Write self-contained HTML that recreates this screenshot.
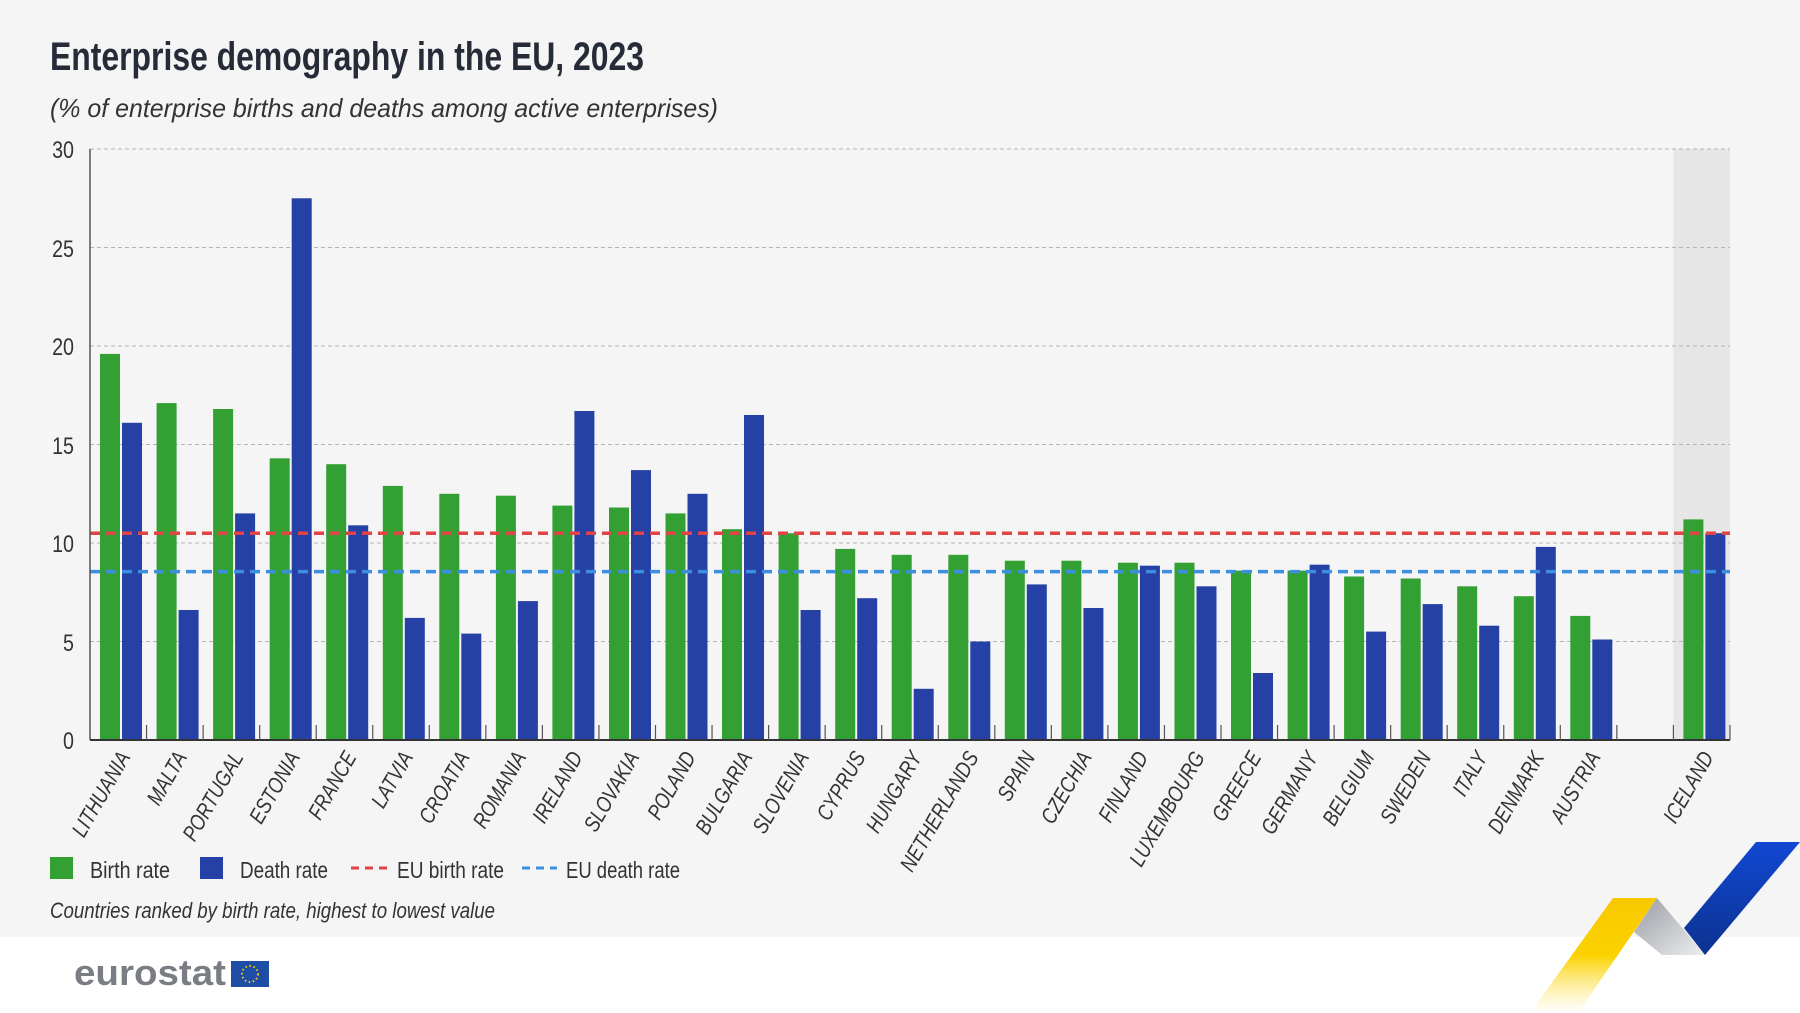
<!DOCTYPE html>
<html><head><meta charset="utf-8"><style>
html,body{margin:0;padding:0;background:#fff}
svg{display:block}
text{font-family:"Liberation Sans",sans-serif}
</style></head><body>
<svg width="1800" height="1013" viewBox="0 0 1800 1013" xmlns="http://www.w3.org/2000/svg">
<rect x="0" y="0" width="1800" height="937" fill="#f5f5f5"/>
<text x="50" y="70" font-size="40" font-weight="bold" fill="#262b38" textLength="594" lengthAdjust="spacingAndGlyphs">Enterprise demography in the EU, 2023</text>
<text x="50" y="117" font-size="26" font-style="italic" fill="#333" textLength="668" lengthAdjust="spacingAndGlyphs">(% of enterprise births and deaths among active enterprises)</text>
<rect x="1673.4" y="149" width="56.6" height="591" fill="#e6e6e6"/>
<g stroke="#b4b4b4" stroke-width="1" stroke-dasharray="4,3">
<line x1="90" y1="149" x2="1730" y2="149"/><line x1="90" y1="247.5" x2="1730" y2="247.5"/>
<line x1="90" y1="346" x2="1730" y2="346"/><line x1="90" y1="444.5" x2="1730" y2="444.5"/>
<line x1="90" y1="543" x2="1730" y2="543"/><line x1="90" y1="641.5" x2="1730" y2="641.5"/>
</g>
<g font-size="24" fill="#333" text-anchor="end">
<text transform="translate(74,158) scale(0.82,1)">30</text><text transform="translate(74,257) scale(0.82,1)">25</text><text transform="translate(74,355) scale(0.82,1)">20</text>
<text transform="translate(74,454) scale(0.82,1)">15</text><text transform="translate(74,552) scale(0.82,1)">10</text><text transform="translate(74,651) scale(0.82,1)">5</text><text transform="translate(74,749) scale(0.82,1)">0</text>
</g>
<g fill="#33a033">
<rect x="100" y="353.9" width="20" height="386.1"/><rect x="156.6" y="403.1" width="20" height="336.9"/>
<rect x="213.1" y="409" width="20" height="331"/><rect x="269.7" y="458.3" width="20" height="281.7"/>
<rect x="326.2" y="464.2" width="20" height="275.8"/><rect x="382.8" y="485.9" width="20" height="254.1"/>
<rect x="439.3" y="493.8" width="20" height="246.2"/><rect x="495.9" y="495.7" width="20" height="244.3"/>
<rect x="552.4" y="505.6" width="20" height="234.4"/><rect x="609" y="507.5" width="20" height="232.5"/>
<rect x="665.5" y="513.4" width="20" height="226.6"/><rect x="722" y="529.2" width="20" height="210.8"/>
<rect x="778.6" y="533.2" width="20" height="206.8"/><rect x="835.2" y="548.9" width="20" height="191.1"/>
<rect x="891.7" y="554.8" width="20" height="185.2"/><rect x="948.3" y="554.8" width="20" height="185.2"/>
<rect x="1004.8" y="560.7" width="20" height="179.3"/><rect x="1061.4" y="560.7" width="20" height="179.3"/>
<rect x="1117.9" y="562.7" width="20" height="177.3"/><rect x="1174.5" y="562.7" width="20" height="177.3"/>
<rect x="1231" y="570.6" width="20" height="169.4"/><rect x="1287.6" y="570.6" width="20" height="169.4"/>
<rect x="1344.1" y="576.5" width="20" height="163.5"/><rect x="1400.7" y="578.5" width="20" height="161.5"/>
<rect x="1457.2" y="586.3" width="20" height="153.7"/><rect x="1513.8" y="596.2" width="20" height="143.8"/>
<rect x="1570.3" y="615.9" width="20" height="124.1"/><rect x="1683.4" y="519.4" width="20" height="220.6"/>
</g>
<g fill="#2541a6">
<rect x="122" y="422.8" width="20" height="317.2"/><rect x="178.6" y="610" width="20" height="130"/>
<rect x="235.1" y="513.4" width="20" height="226.6"/><rect x="291.7" y="198.3" width="20" height="541.7"/>
<rect x="348.2" y="525.3" width="20" height="214.7"/><rect x="404.8" y="617.9" width="20" height="122.1"/>
<rect x="461.3" y="633.6" width="20" height="106.4"/><rect x="517.9" y="601.1" width="20" height="138.9"/>
<rect x="574.4" y="411" width="20" height="329"/><rect x="631" y="470.1" width="20" height="269.9"/>
<rect x="687.5" y="493.8" width="20" height="246.2"/><rect x="744" y="415" width="20" height="325"/>
<rect x="800.6" y="610" width="20" height="130"/><rect x="857.2" y="598.2" width="20" height="141.8"/>
<rect x="913.7" y="688.8" width="20" height="51.2"/><rect x="970.3" y="641.5" width="20" height="98.5"/>
<rect x="1026.8" y="584.4" width="20" height="155.6"/><rect x="1083.4" y="608" width="20" height="132"/>
<rect x="1139.9" y="565.7" width="20" height="174.3"/><rect x="1196.5" y="586.3" width="20" height="153.7"/>
<rect x="1253" y="673" width="20" height="67"/><rect x="1309.6" y="564.7" width="20" height="175.3"/>
<rect x="1366.1" y="631.6" width="20" height="108.4"/><rect x="1422.7" y="604.1" width="20" height="135.9"/>
<rect x="1479.2" y="625.7" width="20" height="114.3"/><rect x="1535.8" y="546.9" width="20" height="193.1"/>
<rect x="1592.3" y="639.5" width="20" height="100.5"/><rect x="1705.4" y="533.2" width="20" height="206.8"/>
</g>
<line x1="90" y1="533.2" x2="1730" y2="533.2" stroke="#e04444" stroke-width="3.5" stroke-dasharray="10,6"/>
<line x1="90" y1="571.6" x2="1730" y2="571.6" stroke="#3d8ee0" stroke-width="3.5" stroke-dasharray="10,6"/>
<line x1="90" y1="149" x2="90" y2="740" stroke="#555" stroke-width="1.5"/>
<line x1="90" y1="740" x2="1730" y2="740" stroke="#333" stroke-width="2"/>
<g stroke="#555" stroke-width="1.2">
<line x1="146.55" y1="725" x2="146.55" y2="740"/><line x1="203.1" y1="725" x2="203.1" y2="740"/><line x1="259.65" y1="725" x2="259.65" y2="740"/><line x1="316.2" y1="725" x2="316.2" y2="740"/><line x1="372.75" y1="725" x2="372.75" y2="740"/><line x1="429.3" y1="725" x2="429.3" y2="740"/><line x1="485.85" y1="725" x2="485.85" y2="740"/><line x1="542.4" y1="725" x2="542.4" y2="740"/><line x1="598.95" y1="725" x2="598.95" y2="740"/><line x1="655.5" y1="725" x2="655.5" y2="740"/><line x1="712.05" y1="725" x2="712.05" y2="740"/><line x1="768.6" y1="725" x2="768.6" y2="740"/><line x1="825.15" y1="725" x2="825.15" y2="740"/><line x1="881.7" y1="725" x2="881.7" y2="740"/><line x1="938.25" y1="725" x2="938.25" y2="740"/><line x1="994.8" y1="725" x2="994.8" y2="740"/><line x1="1051.35" y1="725" x2="1051.35" y2="740"/><line x1="1107.9" y1="725" x2="1107.9" y2="740"/><line x1="1164.45" y1="725" x2="1164.45" y2="740"/><line x1="1221" y1="725" x2="1221" y2="740"/><line x1="1277.55" y1="725" x2="1277.55" y2="740"/><line x1="1334.1" y1="725" x2="1334.1" y2="740"/><line x1="1390.65" y1="725" x2="1390.65" y2="740"/><line x1="1447.2" y1="725" x2="1447.2" y2="740"/><line x1="1503.75" y1="725" x2="1503.75" y2="740"/><line x1="1560.3" y1="725" x2="1560.3" y2="740"/><line x1="1616.85" y1="725" x2="1616.85" y2="740"/><line x1="1673.4" y1="725" x2="1673.4" y2="740"/><line x1="1730" y1="725" x2="1730" y2="740"/>
</g>
<g font-size="22" font-style="italic" fill="#333" text-anchor="end">
<text transform="translate(131,757) rotate(-60) scale(0.82,1)">LITHUANIA</text>
<text transform="translate(187.6,757) rotate(-60) scale(0.82,1)">MALTA</text>
<text transform="translate(244.1,757) rotate(-60) scale(0.82,1)">PORTUGAL</text>
<text transform="translate(300.7,757) rotate(-60) scale(0.82,1)">ESTONIA</text>
<text transform="translate(357.2,757) rotate(-60) scale(0.82,1)">FRANCE</text>
<text transform="translate(413.8,757) rotate(-60) scale(0.82,1)">LATVIA</text>
<text transform="translate(470.3,757) rotate(-60) scale(0.82,1)">CROATIA</text>
<text transform="translate(526.9,757) rotate(-60) scale(0.82,1)">ROMANIA</text>
<text transform="translate(583.4,757) rotate(-60) scale(0.82,1)">IRELAND</text>
<text transform="translate(640,757) rotate(-60) scale(0.82,1)">SLOVAKIA</text>
<text transform="translate(696.5,757) rotate(-60) scale(0.82,1)">POLAND</text>
<text transform="translate(753,757) rotate(-60) scale(0.82,1)">BULGARIA</text>
<text transform="translate(809.6,757) rotate(-60) scale(0.82,1)">SLOVENIA</text>
<text transform="translate(866.2,757) rotate(-60) scale(0.82,1)">CYPRUS</text>
<text transform="translate(922.7,757) rotate(-60) scale(0.82,1)">HUNGARY</text>
<text transform="translate(979.3,757) rotate(-60) scale(0.82,1)">NETHERLANDS</text>
<text transform="translate(1035.8,757) rotate(-60) scale(0.82,1)">SPAIN</text>
<text transform="translate(1092.4,757) rotate(-60) scale(0.82,1)">CZECHIA</text>
<text transform="translate(1148.9,757) rotate(-60) scale(0.82,1)">FINLAND</text>
<text transform="translate(1205.5,757) rotate(-60) scale(0.82,1)">LUXEMBOURG</text>
<text transform="translate(1262,757) rotate(-60) scale(0.82,1)">GREECE</text>
<text transform="translate(1318.6,757) rotate(-60) scale(0.82,1)">GERMANY</text>
<text transform="translate(1375.1,757) rotate(-60) scale(0.82,1)">BELGIUM</text>
<text transform="translate(1431.7,757) rotate(-60) scale(0.82,1)">SWEDEN</text>
<text transform="translate(1488.2,757) rotate(-60) scale(0.82,1)">ITALY</text>
<text transform="translate(1544.8,757) rotate(-60) scale(0.82,1)">DENMARK</text>
<text transform="translate(1601.3,757) rotate(-60) scale(0.82,1)">AUSTRIA</text>
<text transform="translate(1714.4,757) rotate(-60) scale(0.82,1)">ICELAND</text>
</g>
<rect x="50" y="857" width="23" height="22" fill="#33a033"/>
<text x="90" y="878" font-size="23" fill="#333" textLength="80" lengthAdjust="spacingAndGlyphs">Birth rate</text>
<rect x="200" y="857" width="23" height="22" fill="#2541a6"/>
<text x="240" y="878" font-size="23" fill="#333" textLength="88" lengthAdjust="spacingAndGlyphs">Death rate</text>
<line x1="351" y1="868" x2="387" y2="868" stroke="#e04444" stroke-width="3" stroke-dasharray="8,6"/>
<text x="397" y="878" font-size="23" fill="#333" textLength="107" lengthAdjust="spacingAndGlyphs">EU birth rate</text>
<line x1="522" y1="868" x2="557" y2="868" stroke="#3d8ee0" stroke-width="3" stroke-dasharray="8,6"/>
<text x="566" y="878" font-size="23" fill="#333" textLength="114" lengthAdjust="spacingAndGlyphs">EU death rate</text>
<text x="50" y="918" font-size="22" font-style="italic" fill="#333" textLength="445" lengthAdjust="spacingAndGlyphs">Countries ranked by birth rate, highest to lowest value</text>
<text x="74" y="985" font-size="36" font-weight="bold" fill="#7a7d84" textLength="152" lengthAdjust="spacingAndGlyphs">eurostat</text>
<rect x="231" y="961" width="38" height="26" fill="#1d4ea3"/>
<circle cx="250" cy="974" r="8" fill="none" stroke="#f5cb1a" stroke-width="2" stroke-dasharray="1.5,2.6"/>
<defs>
<linearGradient id="yg" x1="0" y1="0" x2="0" y2="1"><stop offset="0" stop-color="#f8c800"/><stop offset="0.5" stop-color="#fbd200"/><stop offset="1" stop-color="#fff" stop-opacity="0.6"/></linearGradient>
<linearGradient id="gg" x1="0" y1="0" x2="1" y2="1"><stop offset="0" stop-color="#9a9ca3"/><stop offset="1" stop-color="#eceef0"/></linearGradient>
<linearGradient id="bg" x1="0" y1="0" x2="0" y2="1"><stop offset="0" stop-color="#1148d2"/><stop offset="1" stop-color="#0c3290"/></linearGradient>
</defs>
<polygon points="1613,898 1657,898 1578,1013 1530,1013" fill="url(#yg)"/>
<polygon points="1657,898 1705,955 1662,955 1634,932" fill="url(#gg)"/>
<polygon points="1756,842 1800,842 1705,955 1684,928" fill="url(#bg)"/>
</svg>
</body></html>
